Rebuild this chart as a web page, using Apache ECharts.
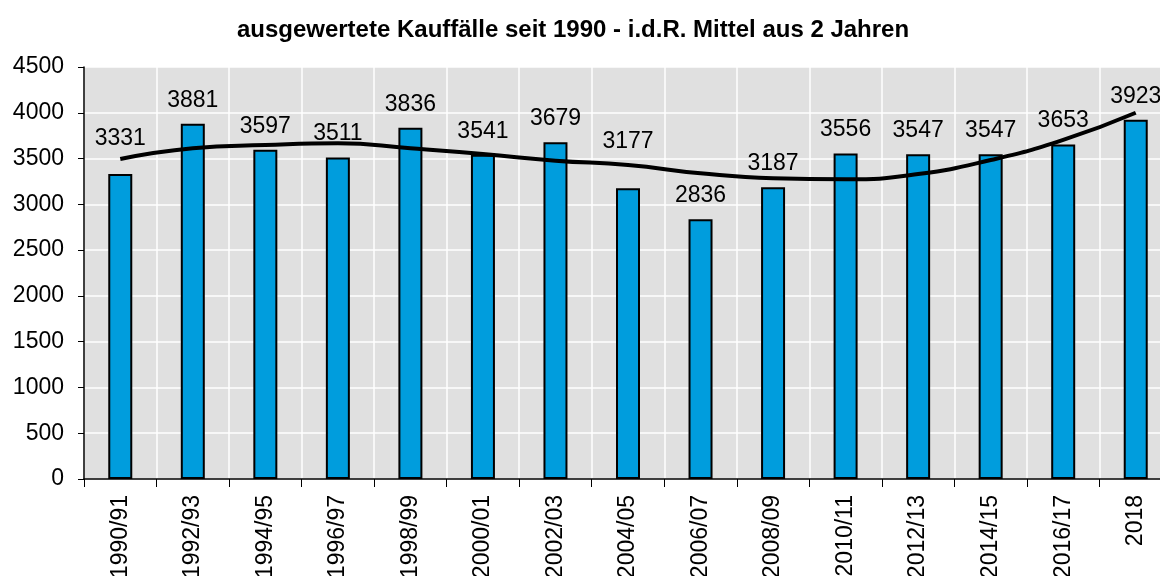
<!DOCTYPE html>
<html>
<head>
<meta charset="utf-8">
<script src="https://cdn.jsdelivr.net/npm/echarts@6/dist/echarts.min.js"></script>
<style>
  html, body { margin: 0; padding: 0; background: #fff; }
  #chart { width: 1160px; height: 576px; }
</style>
</head>
<body>
<div id="chart"></div>
<script>
// Kategorien (Zeiträume)
const categories = ['1990/91', '1992/93', '1994/95', '1996/97', '1998/99', '2000/01', '2002/03',
  '2004/05', '2006/07', '2008/09', '2010/11', '2012/13', '2014/15', '2016/17', '2018']
// ausgewertete Kauffälle
const kauffaelle = [3331, 3881, 3597, 3511, 3836, 3541, 3679, 3177, 2836, 3187, 3556, 3547, 3547, 3653, 3923]
// Trendlinie
const trend = [3495, 3612, 3648, 3667, 3612, 3550, 3477, 3430, 3339, 3284, 3273, 3331, 3484, 3703, 4000]

const chart = echarts.init(document.getElementById('chart'))
const font = 'Arial, "Liberation Sans", sans-serif'

// einige Beschriftungen sitzen im Original höher (über der Trendlinie)
const extraLift = { 0: 12, 7: 23 }

const barData = kauffaelle.map((v, i) => {
  if (extraLift[i] === undefined) return v
  return { value: v, label: { distance: 12 + extraLift[i] } }
})

const option = {
  animation: false,
  title: {
    text: 'ausgewertete Kauffälle seit 1990 - i.d.R. Mittel aus 2 Jahren',
    left: 568,
    top: 13,
    textAlign: 'center',
    textStyle: {
      fontFamily: font,
      fontWeight: 'bold',
      fontSize: 24,
      color: '#000'
    }
  },
  grid: {
    left: 84,
    top: 67,
    width: 1088,
    height: 412,
    show: true,
    backgroundColor: '#e0e0e0',
    borderWidth: 0,
    containLabel: false,
    outerBoundsMode: 'none'
  },
  xAxis: {
    type: 'category',
    data: categories,
    axisLine: { lineStyle: { color: '#000', width: 1.5 } },
    axisTick: { show: true, length: 8, lineStyle: { color: '#000' } },
    axisLabel: {
      rotate: 90,
      color: '#000',
      fontFamily: font,
      fontSize: 23,
      margin: 16
    },
    splitLine: { show: true, interval: 0, lineStyle: { color: '#fff', width: 1.5 } }
  },
  yAxis: {
    type: 'value',
    min: 0,
    max: 4500,
    interval: 500,
    axisLine: { show: true, lineStyle: { color: '#000', width: 1.5 } },
    axisTick: { show: true, length: 6, lineStyle: { color: '#000' } },
    axisLabel: {
      color: '#000',
      fontFamily: font,
      fontSize: 23,
      margin: 20,
      formatter: (v) => String(v)
    },
    splitLine: { lineStyle: { color: '#fff', width: 1.5 } }
  },
  series: [
    {
      name: 'Kauffälle',
      type: 'bar',
      data: barData,
      barWidth: 24,
      itemStyle: {
        color: '#009ddd',
        borderColor: '#000',
        borderWidth: 2
      },
      label: {
        show: true,
        position: 'top',
        distance: 12,
        color: '#000',
        fontFamily: font,
        fontSize: 23
      },
      z: 2
    },
    {
      name: 'Trend',
      type: 'line',
      data: trend,
      smooth: 0.5,
      symbol: 'none',
      lineStyle: { color: '#000', width: 4 },
      z: 3
    }
  ]
}

chart.setOption(option)
</script>
</body>
</html>
